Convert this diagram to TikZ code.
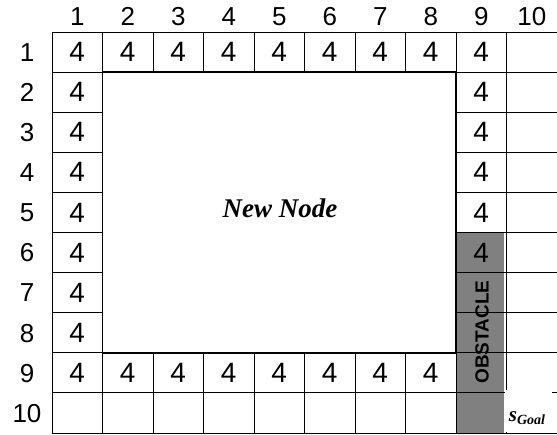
\documentclass[tikz,border=0pt]{standalone}
\usepackage{fontspec}
\setmainfont{Liberation Sans}
\newfontfamily\serifbi{Liberation Serif}
\definecolor{obst}{HTML}{808080}
\begin{document}
\begin{tikzpicture}[x=1pt,y=-1pt,
  gridline/.style={line width=0.9pt},
  cellbox/.style={draw, gridline, minimum width=50.5pt, minimum height=40.1pt, inner sep=0pt, font=\fontsize{28}{28}\selectfont},
  hdr/.style={inner sep=0pt, anchor=base, font=\fontsize{26}{26}\selectfont},
  bignode/.style={draw, line width=1.4pt, minimum width=353.5pt, minimum height=280.7pt, inner sep=0pt},
  bigtext/.style={inner sep=0pt, font=\serifbi\bfseries\itshape\fontsize{27}{27}\selectfont},
  obstlabel/.style={rotate=90, inner sep=0pt, font=\bfseries\fontsize{19}{19}\selectfont},
  goalbox/.style={fill=white, inner sep=0pt, minimum width=47pt, minimum height=42pt}]
\useasboundingbox (0,0) rectangle (557,434);
% obstacle shading
\fill[obst] (456.5,232) rectangle (504,433);
% column and row headers
\foreach \c in {1,...,10}{
  \node[hdr] (ch\c) at ({52+50.5*(\c-0.5)},25.5) {\c};
}
\foreach \r in {1,...,10}{
  \node[hdr] (rh\r) at (27,{32+40.1*(\r-0.5)+9.3}) {\r};
}
% border cells
\foreach \r in {1,...,10}{
  \foreach \c in {1,...,10}{
    \pgfmathtruncatemacro\show{(\r==1 || \r>=9 || \c==1 || \c>=9) ? 1 : 0}
    \pgfmathtruncatemacro\four{((\r==1 && \c<=9) || (\c==1 && \r<=9) || (\r==9 && \c<=8) || (\c==9 && \r<=6)) ? 1 : 0}
    \ifnum\show=1
      \node[cellbox] (cell-\r-\c) at ({52+50.5*(\c-0.5)},{32+40.1*(\r-0.5)}) {\ifnum\four=1 4\fi};
    \fi
  }
}
% inner region
\node[bignode] (newnode) at (279.25,212.45) {};
\node[bigtext] (newnodetext) at (280,208) {New Node};
% obstacle label
\node[obstlabel] (obstacle) at (482,332) {OBSTACLE};
% goal
\node[goalbox] (goal) at (528,410.5) {};
\node[inner sep=0pt, anchor=base, font=\serifbi\bfseries\itshape] (goaltext) at (527,421) {\fontsize{21}{21}\selectfont s\fontsize{14}{14}\selectfont\raisebox{-3pt}{Goal}};
\end{tikzpicture}
\end{document}
